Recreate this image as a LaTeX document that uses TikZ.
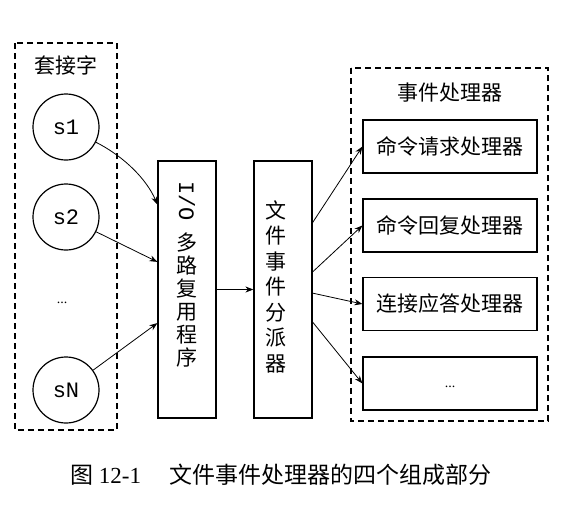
\documentclass[tikz,border=0pt]{standalone}
\usepackage{fontspec}
\setmainfont{Liberation Serif}
\setmonofont{Liberation Mono}
\newfontfamily\cjk{Noto Sans CJK SC}
\usetikzlibrary{arrows.meta,calc}
\begin{document}
\begin{tikzpicture}[x=1pt,y=-1pt,
 dashbox/.style={draw, line width=1.6pt, dash pattern=on 6pt off 4pt},
 sock/.style={circle, draw, line width=1.2pt, minimum size=66pt, inner sep=0pt, font=\ttfamily\fontsize{22}{24}\selectfont},
 solidbox/.style={draw, line width=1.2pt, inner sep=0pt},
 handler/.style={solidbox, minimum width=174pt, minimum height=53pt, font=\cjk\fontsize{21}{24}\selectfont},
 arr/.style={-{Stealth[length=8pt,width=6pt]}, line width=0.8pt},
 lbl/.style={inner sep=0pt, font=\cjk\fontsize{21}{24}\selectfont},
 dots/.style={inner sep=0pt, font=\rmfamily\fontsize{14}{16}\selectfont},
]
\useasboundingbox (0,0) rectangle (587,528);
% left group
\draw[dashbox] (15,43) rectangle (117,430);
\node[lbl] (socklbl) at (66,65) {套接字};
\node[sock] (s1) at (66,127) {s1};
\node[sock] (s2) at (66,217) {s2};
\node[dots] (sdots) at (62,303) {...};
\node[sock] (sN) at (66,390) {sN};
% IO multiplexer
\node[solidbox, minimum width=58pt, minimum height=257pt] (io) at (187,289.5) {};
\node[inner sep=0pt, rotate=-90, font=\ttfamily\fontsize{22}{24}\selectfont] (iolat) at (187,201) {I/O};
\node[lbl, align=center, font=\cjk\fontsize{21}{23}\selectfont] (iotxt) at (187,300.5) {多\\路\\复\\用\\程\\序};
% dispatcher
\node[solidbox, minimum width=58pt, minimum height=257pt] (disp) at (283,289.5) {};
\node[lbl, align=center, font=\cjk\fontsize{21}{25.5}\selectfont] (disptxt) at (276,286.5) {文\\件\\事\\件\\分\\派\\器};
% handlers
\draw[dashbox] (351,68) rectangle (548,421);
\node[lbl] (hlbl) at (450,93) {事件处理器};
\node[handler] (h1) at (450,146.5) {命令请求处理器};
\node[handler] (h2) at (450,225.5) {命令回复处理器};
\node[handler] (h3) at (450,304) {连接应答处理器};
\node[handler] (h4) at (450,383.5) {};
\node[dots] (hdots) at (450,387) {...};
% connection points
\coordinate (t1) at ($(io.north west)!0.171!(io.south west)$);
\coordinate (t2) at ($(io.north west)!0.393!(io.south west)$);
\coordinate (t3) at ($(io.north west)!0.630!(io.south west)$);
\coordinate (d1) at ($(disp.north east)!0.241!(disp.south east)$);
\coordinate (d2) at ($(disp.north east)!0.432!(disp.south east)$);
\coordinate (d3) at ($(disp.north east)!0.514!(disp.south east)$);
\coordinate (d4) at ($(disp.north east)!0.626!(disp.south east)$);
% arrows
\draw[arr] (s1.-27) .. controls (125,157) and (147,180) .. (t1);
\draw[arr] (s2) -- (t2);
\draw[arr] (sN) -- (t3);
\draw[arr] (io.east) -- (disp.west);
\draw[arr] (d1) -- (h1.west);
\draw[arr] (d2) -- (h2.west);
\draw[arr] (d3) -- (h3.west);
\draw[arr] (d4) -- (h4.west);
% caption
\node[inner sep=0pt, font=\cjk\fontsize{23}{26}\selectfont] (cap) at (281,475) {图\ {\rmfamily 12-1}\hspace{28pt}文件事件处理器的四个组成部分};
\end{tikzpicture}
\end{document}
